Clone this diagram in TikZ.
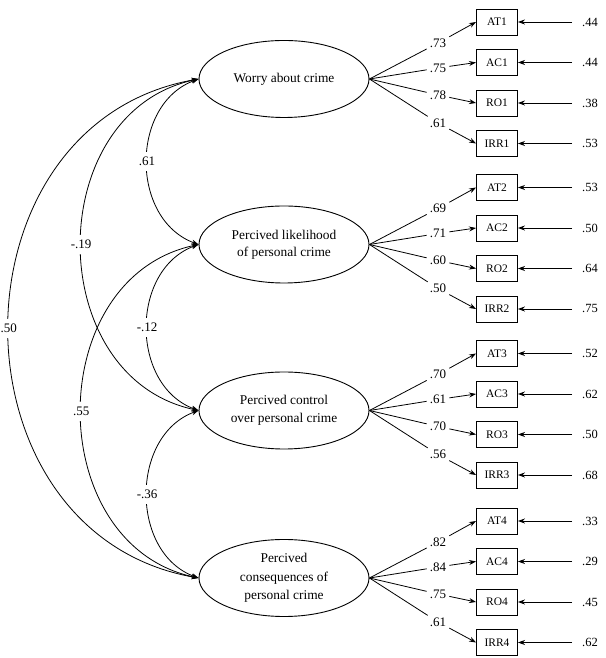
\documentclass[tikz,border=0pt]{standalone}
\usepackage{fontspec}
\setmainfont{Liberation Serif}
\usetikzlibrary{shapes.geometric,arrows.meta}
\begin{document}
\begin{tikzpicture}[x=1pt,y=1pt,
  lat/.style={ellipse,draw,line width=0.9pt,minimum width=170pt,minimum height=77pt,inner sep=0pt,align=center},
  ind/.style={rectangle,draw,line width=0.9pt,minimum width=41pt,minimum height=26pt,inner sep=0pt,font=\fontsize{11.5}{13}\selectfont},
  num/.style={font=\fontsize{13}{15}\selectfont,inner xsep=3pt,inner ysep=2pt},
  errlab/.style={font=\fontsize{12.5}{15}\selectfont,inner sep=0pt},
  cov/.style={fill=white,font=\fontsize{13}{15}\selectfont,inner xsep=1pt,inner ysep=5pt},
  conn/.style={line width=0.8pt},
  tip/.style={-{Stealth[length=7pt,width=5pt]}},
  both/.style={{Stealth[length=7pt,width=5pt]}-{Stealth[length=7pt,width=5pt]}}
]
\useasboundingbox (0,0) rectangle (605,658);

% latent variables
\node[lat,font=\fontsize{13.4}{17}\selectfont] (e1) at (284,658-79) {Worry about crime};
\node[lat,font=\fontsize{13.4}{17}\selectfont] (e2) at (284,658-244.5) {Percived likelihood\\of personal crime};
\node[lat,font=\fontsize{13.4}{18.5}\selectfont] (e3) at (284,658-410.5) {Percived control\\over personal crime};
\node[lat,font=\fontsize{13.4}{18.5}\selectfont] (e4) at (284,658-578) {Percived\\consequences of\\personal crime};

% indicators, loadings and errors
\foreach \g/\yc/\la/\lb/\lc/\ld/\ea/\eb/\ec/\ed in {
  1/79/.73/.75/.78/.61/.44/.44/.38/.53,
  2/244.5/.69/.71/.60/.50/.53/.50/.64/.75,
  3/410.5/.70/.61/.70/.56/.52/.62/.50/.68,
  4/578/.82/.84/.75/.61/.33/.29/.45/.62}{
  \foreach \n/\dy/\ly/\lab/\err in {AT/-57/-36/\la/\ea, AC/-16.5/-11/\lb/\eb, RO/24/16/\lc/\ec, IRR/64.5/44/\ld/\ed}{
    \pgfmathsetmacro{\yb}{658-\yc-\dy}
    \pgfmathsetmacro{\yl}{658-\yc-\ly}
    \node[ind] (b\g\n) at (497,\yb) {\n\g};
    \node[num] (l\g\n) at (438,\yl) {\lab};
    \draw[conn] (e\g.east) -- (l\g\n);
    \draw[conn,tip] (l\g\n) -- (b\g\n.west);
    \coordinate (u\g\n) at (572,\yb);
    \node[errlab] (r\g\n) at (590,\yb) {\err};
    \draw[conn,tip] (u\g\n) -- (b\g\n.east);
  }
}

% covariances
\draw[conn,both] (e1.west) to[out=200,in=160,distance=73pt] node[cov]{.61} (e2.west);
\draw[conn,both] (e2.west) to[out=200,in=160,distance=73pt] node[cov]{-.12} (e3.west);
\draw[conn,both] (e3.west) to[out=200,in=160,distance=73pt] node[cov]{-.36} (e4.west);
\draw[conn,both] (e1.west) to[out=192,in=168,distance=160pt] node[cov]{-.19} (e3.west);
\draw[conn,both] (e2.west) to[out=192,in=168,distance=160pt] node[cov]{.55} (e4.west);
\draw[conn,both] (e1.west) to[out=190,in=170,distance=257pt] node[cov]{.50} (e4.west);
\end{tikzpicture}
\end{document}
